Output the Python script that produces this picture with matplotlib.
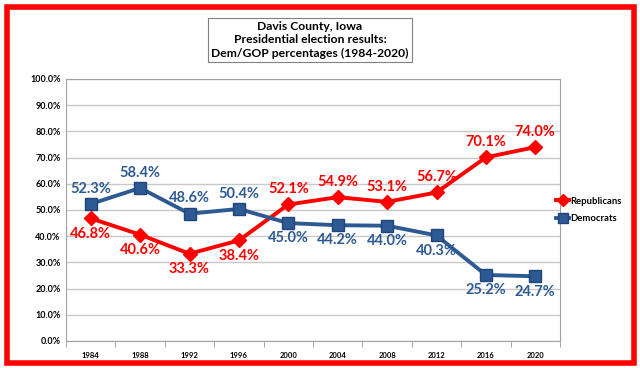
import matplotlib.pyplot as plt
from matplotlib.patches import Rectangle

years = ["1984", "1988", "1992", "1996", "2000", "2004", "2008", "2012", "2016", "2020"]
rep = [46.8, 40.6, 33.3, 38.4, 52.1, 54.9, 53.1, 56.7, 70.1, 74.0]
dem = [52.3, 58.4, 48.6, 50.4, 45.0, 44.2, 44.0, 40.3, 25.2, 24.7]
# label above (+1) or below (-1) the point
rep_pos = [-1, -1, -1, -1, 1, 1, 1, 1, 1, 1]
dem_pos = [1, 1, 1, 1, -1, -1, -1, -1, -1, -1]

RED = "#FF0000"
BLUE = "#2E5A94"

plt.rcParams["font.family"] = ["Lato", "DejaVu Sans"]

fig = plt.figure(figsize=(6.4, 3.68), dpi=100)
W, H = 640, 368
ax = fig.add_axes([66 / W, 1 - 341 / H, (560 - 66) / W, (341 - 79) / H])

x = list(range(len(years)))
ax.plot(x, rep, color=RED, lw=2.8, marker="D", ms=7, label="Republicans", zorder=3)
ax.plot(x, dem, color=BLUE, lw=2.8, marker="s", ms=8.5, mec="#20457A", label="Democrats", zorder=3)

for i in x:
    ax.annotate(f"{rep[i]:.1f}%", (i, rep[i]), xytext=(0, 11 * rep_pos[i]),
                textcoords="offset points", ha="center", va="center",
                color=RED, fontsize=10.5, fontweight="bold")
    ax.annotate(f"{dem[i]:.1f}%", (i, dem[i]), xytext=(0, 11 * dem_pos[i]),
                textcoords="offset points", ha="center", va="center",
                color=BLUE, fontsize=10.5, fontweight="bold")

ax.set_xlim(-0.5, len(years) - 0.5)
ax.set_ylim(0, 100)
ax.set_yticks(range(0, 101, 10))
ax.set_yticklabels([f"{v:.1f}%" for v in range(0, 101, 10)], fontsize=6.5, fontweight="bold")
ax.set_xticks(x)
ax.set_xticklabels(years, fontsize=5.5, fontweight="bold")
ax.set_xticks([i + 0.5 for i in range(-1, len(years))], minor=True)
ax.tick_params(axis="x", which="major", length=0, pad=8)
ax.tick_params(axis="x", which="minor", length=4, color="#999999")
ax.tick_params(axis="y", length=0, pad=4)
ax.grid(axis="y", color="#C8C8C8", lw=1)
ax.set_axisbelow(True)
for s in ax.spines.values():
    s.set_color("#A0A0A0")
    s.set_linewidth(0.8)
ax.spines["left"].set_visible(False)
ax.axvline(-0.5, color="#A0A0A0", lw=0.8)

ax.legend(loc="center left", bbox_to_anchor=(490 / 494, 0.5), frameon=False,
          handlelength=1.4, handletextpad=0.1, labelspacing=0.95,
          borderpad=0, borderaxespad=0, markerscale=0.85,
          prop={"weight": "bold", "size": 6.8})

# title box
fig.text(310 / W, 1 - 40 / H, "Davis County, Iowa\nPresidential election results:\nDem/GOP percentages (1984-2020)",
         ha="center", va="center", fontsize=8.7, fontweight="bold", linespacing=1.25,
         bbox=dict(boxstyle="square,pad=0.3", fc="white", ec="#808080", lw=0.8))

# red frame
fig.patches.append(Rectangle((7 / W, 1 - 363 / H), 627 / W, 356 / H, transform=fig.transFigure,
                             fill=False, ec=RED, lw=4))

fig.savefig("out.png", dpi=100)
